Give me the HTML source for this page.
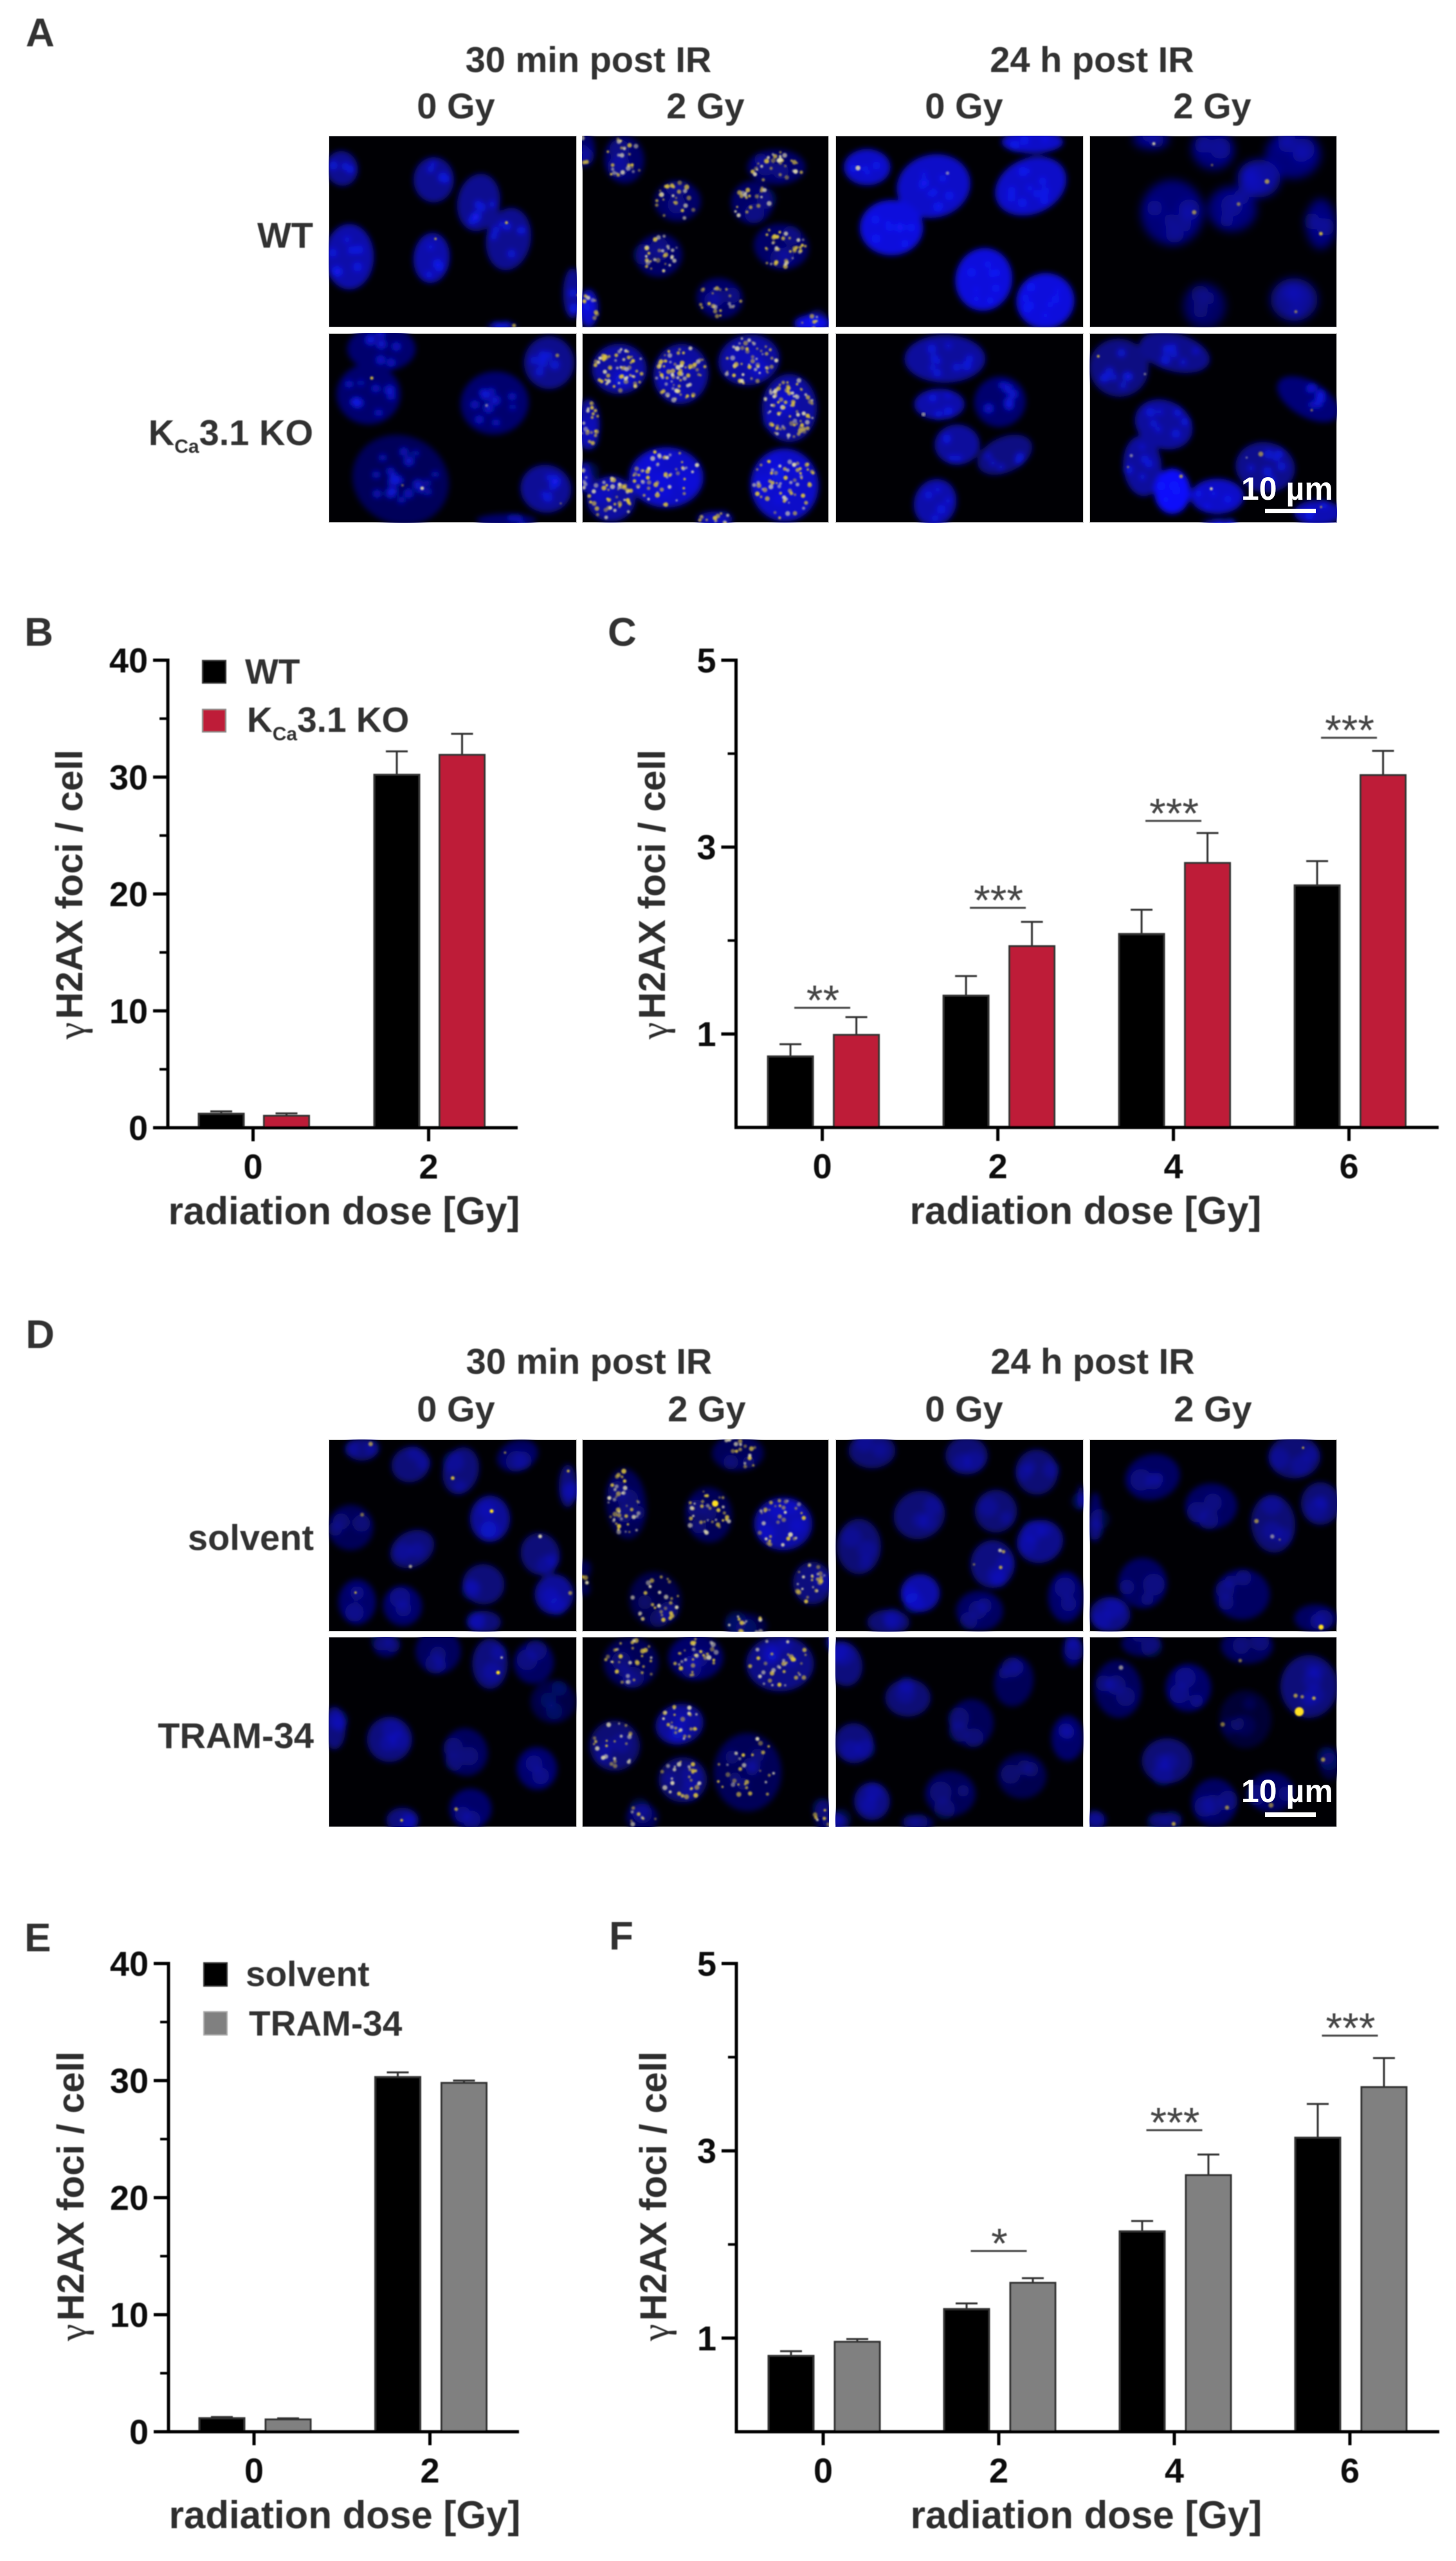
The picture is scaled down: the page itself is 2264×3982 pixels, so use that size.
<!DOCTYPE html>
<html lang="en">
<head>
<meta charset="utf-8">
<title>γH2AX foci after irradiation</title>
<style>
html,body{margin:0;padding:0;background:#fff;}
svg{display:block;}
text{font-family:"Liberation Sans",sans-serif;}
.pl{font-weight:700;font-size:62px;fill:#333;}
.head{font-weight:700;font-size:56px;fill:#333;}
.leg{font-weight:700;font-size:55px;fill:#333;}
.sub{font-weight:700;font-size:30px;}
.sb{font-weight:700;font-size:50px;fill:#fff;}
</style>
</head>
<body>
<svg id="fig" xmlns="http://www.w3.org/2000/svg" width="2264" height="3982" viewBox="0 0 2264 3982">
<defs>
<filter id="nb" x="-5%" y="-5%" width="110%" height="110%"><feGaussianBlur stdDeviation="4.5"/></filter>
<filter id="nbs" x="-5%" y="-5%" width="110%" height="110%"><feGaussianBlur stdDeviation="7"/></filter>
<filter id="fb" x="-5%" y="-5%" width="110%" height="110%"><feGaussianBlur stdDeviation="1.4"/></filter>
<filter id="soft" filterUnits="userSpaceOnUse" x="0" y="0" width="2264" height="3982"><feGaussianBlur stdDeviation="0.8"/></filter>
</defs>
<rect width="2264" height="3982" fill="#fff"/>

<g id="micro"></g>

<g id="statics" filter="url(#soft)">
  <text class="pl" x="40" y="72">A</text>
  <text class="pl" x="38" y="1004">B</text>
  <text class="pl" x="945" y="1004">C</text>
  <text class="pl" x="40" y="2096">D</text>
  <text class="pl" x="38" y="3034">E</text>
  <text class="pl" x="947" y="3031">F</text>

  <text class="head" x="915" y="112" text-anchor="middle">30 min post IR</text>
  <text class="head" x="1698" y="112" text-anchor="middle">24 h post IR</text>
  <text class="head" x="709" y="184" text-anchor="middle">0 Gy</text>
  <text class="head" x="1097" y="184" text-anchor="middle">2 Gy</text>
  <text class="head" x="1499" y="184" text-anchor="middle">0 Gy</text>
  <text class="head" x="1885" y="184" text-anchor="middle">2 Gy</text>
  <text class="head" x="487" y="385" text-anchor="end">WT</text>
  <text class="head" x="487" y="692" text-anchor="end">K<tspan class="sub" dy="12">Ca</tspan><tspan dy="-12">3.1 KO</tspan></text>

  <text class="head" x="916" y="2136" text-anchor="middle">30 min post IR</text>
  <text class="head" x="1699" y="2136" text-anchor="middle">24 h post IR</text>
  <text class="head" x="709" y="2210" text-anchor="middle">0 Gy</text>
  <text class="head" x="1099" y="2210" text-anchor="middle">2 Gy</text>
  <text class="head" x="1499" y="2210" text-anchor="middle">0 Gy</text>
  <text class="head" x="1886" y="2210" text-anchor="middle">2 Gy</text>
  <text class="head" x="488" y="2410" text-anchor="end">solvent</text>
  <text class="head" x="488" y="2718" text-anchor="end">TRAM-34</text>

  <rect x="315" y="1027" width="36" height="35" fill="#000" stroke="#333" stroke-width="2"/>
  <text class="leg" x="381" y="1063">WT</text>
  <rect x="315" y="1103" width="36" height="35" fill="#be1a38" stroke="#888" stroke-width="2"/>
  <text class="leg" x="384" y="1138">K<tspan class="sub" dy="13">Ca</tspan><tspan dy="-13">3.1 KO</tspan></text>

  <rect x="317" y="3052" width="36" height="36" fill="#000" stroke="#333" stroke-width="2"/>
  <text class="leg" x="382" y="3088">solvent</text>
  <rect x="317" y="3128" width="36" height="36" fill="#808080" stroke="#aaa" stroke-width="2"/>
  <text class="leg" x="387" y="3165">TRAM-34</text>
</g>

<g id="charts" filter="url(#soft)"></g>

<g id="scalebars">
  <text class="sb" x="1930" y="777">10 µm</text>
  <rect x="1967" y="791" width="79" height="7" fill="#fff"/>
  <text class="sb" x="1930" y="2802">10 µm</text>
  <rect x="1967" y="2818" width="79" height="7" fill="#fff"/>
</g>
</svg>

<script>
// ---------- Chart data ----------
const categoriesB = ['0', '2'];
const wtMeansB = [1.2, 30.2];
const koMeansB = [1.02, 31.9];
const wtErrorsB = [0.2, 2.0];
const koErrorsB = [0.21, 1.8];
const majorTicksB = [0, 10, 20, 30, 40];
const minorTicksB = [5, 15, 25, 35];

const categoriesC = ['0', '2', '4', '6'];
const wtMeansC = [0.76, 1.41, 2.07, 2.59];
const koMeansC = [0.99, 1.94, 2.83, 3.77];
const wtErrorsC = [0.13, 0.21, 0.26, 0.26];
const koErrorsC = [0.19, 0.26, 0.32, 0.26];
const majorTicksC = [1, 3, 5];
const minorTicksC = [2, 4];
const sigGroupsC = [0, 1, 2, 3];
const sigLabelsC = ['**', '***', '***', '***'];
const sigLevelsC = [1.28, 2.35, 3.28, 4.17];

const categoriesE = ['0', '2'];
const solventMeansE = [1.16, 30.3];
const tramMeansE = [1.05, 29.8];
const solventErrorsE = [0.1, 0.4];
const tramErrorsE = [0.1, 0.2];
const majorTicksE = [0, 10, 20, 30, 40];
const minorTicksE = [5, 15, 25, 35];

const categoriesF = ['0', '2', '4', '6'];
const solventMeansF = [0.81, 1.31, 2.14, 3.14];
const tramMeansF = [0.96, 1.59, 2.74, 3.68];
const solventErrorsF = [0.05, 0.06, 0.11, 0.36];
const tramErrorsF = [0.03, 0.05, 0.22, 0.31];
const majorTicksF = [1, 3, 5];
const minorTicksF = [2, 4];
const sigGroupsF = [1, 2, 3];
const sigLabelsF = ['*', '***', '***'];
const sigLevelsF = [1.93, 3.22, 4.23];

const NS = 'http://www.w3.org/2000/svg';
function make(tag, props, parent) {
  const n = document.createElementNS(NS, tag);
  for (const k in props) n.setAttribute(k, props[k]);
  parent.appendChild(n);
  return n;
}

function drawChart(o) {
  const root = document.getElementById('charts');
  const g = make('g', {}, root);
  
  

  const yScale = v => o.y0 + (o.yTop - o.y0) * v / o.yMax;
  const xScale = i => o.x0 + i * o.step;
  const ink = '#333';

  o.series.forEach((s, si) => {
    o.categories.forEach((c, i) => {
      const left = xScale(i) + s.offset;
      const mid = left + o.barW / 2;
      const top = yScale(s.values[i]);
      const errTop = yScale(s.values[i] + s.errors[i]);

      const stem = make('line', {x1: mid, x2: mid, y1: top, y2: errTop, stroke: ink, 'stroke-width': 3}, g);
      
      

      const cap = make('line', {x1: mid - 17, x2: mid + 17, y1: errTop, y2: errTop, stroke: ink, 'stroke-width': 3}, g);
      
      

      const bar = make('rect', {x: left, y: top, width: o.barW, height: o.y0 - top, fill: s.fill, stroke: ink, 'stroke-width': 3}, g);
      
      
    });
  });

  const yAxis = make('line', {x1: o.axisX, x2: o.axisX, y1: o.yTop - 2.5, y2: o.y0 + 2.5, stroke: '#000', 'stroke-width': 5}, g);
  
  

  const xAxis = make('line', {x1: o.axisX - 2.5, x2: o.axisEnd, y1: o.y0, y2: o.y0, stroke: '#000', 'stroke-width': 5}, g);
  
  

  o.major.forEach(v => {
    const y = yScale(v);
    const t = make('line', {x1: o.axisX - 23, x2: o.axisX, y1: y, y2: y, stroke: '#000', 'stroke-width': 5}, g);
    
    

    const lab = make('text', {x: o.axisX - 31, y: y + 19, 'text-anchor': 'end', 'font-size': 54, 'font-weight': 700, fill: '#111'}, g);
    lab.textContent = String(v);
    
    
  });

  o.minor.forEach(v => {
    const y = yScale(v);
    const t = make('line', {x1: o.axisX - 13, x2: o.axisX, y1: y, y2: y, stroke: '#000', 'stroke-width': 4}, g);
    
    
  });

  o.categories.forEach((c, i) => {
    const x = xScale(i);
    const t = make('line', {x1: x, x2: x, y1: o.y0, y2: o.y0 + 21, stroke: '#000', 'stroke-width': 5}, g);
    
    

    const lab = make('text', {x: x, y: o.y0 + 79, 'text-anchor': 'middle', 'font-size': 54, 'font-weight': 700, fill: '#111'}, g);
    lab.textContent = c;
    
    
  });

  const xt = make('text', {x: o.xTitleX, y: o.y0 + 150, 'text-anchor': 'middle', 'font-size': 60, 'font-weight': 700, fill: '#2f2f2f'}, g);
  xt.textContent = 'radiation dose [Gy]';
  
  

  const yt = make('text', {transform: 'translate(' + o.yTitleX + ',' + o.yTitleY + ') rotate(-90)', 'font-size': 58, 'font-weight': 700, fill: '#2f2f2f'}, g);
  const gam = make('tspan', {'font-family': '"Liberation Serif",serif', 'font-weight': 400, 'font-size': 60, dy: 3}, yt);
  gam.textContent = 'γ';
  const rest = make('tspan', {dy: -3, dx: 5}, yt);
  rest.textContent = 'H2AX foci / cell';
  
  

  (o.sigGroups || []).forEach((gi, k) => {
    const x = xScale(gi);
    const y = yScale(o.sigLevels[k]);
    const line = make('line', {x1: x - 43.5, x2: x + 43.5, y1: y, y2: y, stroke: '#444', 'stroke-width': 3}, g);
    
    

    const star = make('text', {x: x + 1, y: y + 11, 'text-anchor': 'middle', 'font-size': 66, fill: '#444'}, g);
    star.textContent = o.sigLabels[k];
    
    
  });
}

const RED = '#be1a38', GREY = '#808080';
drawChart({id: 'b', categories: categoriesB, yMax: 40, y0: 1753.5, yTop: 1026.5, axisX: 261, axisEnd: 805, x0: 393.5, step: 273, barW: 70,
  major: majorTicksB, minor: minorTicksB, xTitleX: 535, yTitleX: 128, yTitleY: 1616,
  series: [{name: 'wt', values: wtMeansB, errors: wtErrorsB, fill: '#000', offset: -84.5}, {name: 'ko', values: koMeansB, errors: koErrorsB, fill: RED, offset: 17}]});
drawChart({id: 'c', categories: categoriesC, yMax: 5, y0: 1753, yTop: 1026.5, axisX: 1144.5, axisEnd: 2237, x0: 1278.6, step: 273, barW: 70,
  major: majorTicksC, minor: minorTicksC, xTitleX: 1688, yTitleX: 1034, yTitleY: 1616,
  sigGroups: sigGroupsC, sigLabels: sigLabelsC, sigLevels: sigLevelsC,
  series: [{name: 'wt', values: wtMeansC, errors: wtErrorsC, fill: '#000', offset: -84.5}, {name: 'ko', values: koMeansC, errors: koErrorsC, fill: RED, offset: 18}]});
drawChart({id: 'e', categories: categoriesE, yMax: 40, y0: 3781, yTop: 3053, axisX: 262, axisEnd: 807, x0: 395, step: 273.5, barW: 70,
  major: majorTicksE, minor: minorTicksE, xTitleX: 536, yTitleX: 130, yTitleY: 3640,
  series: [{name: 'solvent', values: solventMeansE, errors: solventErrorsE, fill: '#000', offset: -85}, {name: 'tram-34', values: tramMeansE, errors: tramErrorsE, fill: GREY, offset: 18}]});
drawChart({id: 'f', categories: categoriesF, yMax: 5, y0: 3781, yTop: 3053, axisX: 1145, axisEnd: 2238, x0: 1280, step: 273, barW: 70,
  major: majorTicksF, minor: minorTicksF, xTitleX: 1689, yTitleX: 1036, yTitleY: 3640,
  sigGroups: sigGroupsF, sigLabels: sigLabelsF, sigLevels: sigLevelsF,
  series: [{name: 'solvent', values: solventMeansF, errors: solventErrorsF, fill: '#000', offset: -85}, {name: 'tram-34', values: tramMeansF, errors: tramErrorsF, fill: GREY, offset: 18}]});
</script>

<script>
// ---------- Micrographs: stylised nuclei and foci (illustration, not chart data) ----------
(function () {
  const NS2 = 'http://www.w3.org/2000/svg';
  const host = document.getElementById('micro');
  let seed = 12345;
  const rnd = () => { seed = (seed * 1664525 + 1013904223) % 4294967296; return seed / 4294967296; };
  const colX = [[511, 897], [905, 1289], [1299, 1685], [1694, 2079]];

  // crop transforms: offsetX, offsetY, scaleX, scaleY
  const tA1 = [505, 205, 3.01, 2.55], tA23 = [900, 205, 1.985, 2.55], tA4 = [1690, 205, 3.01, 2.55];
  const tD12 = [505, 2230, 1.985, 2.55], tD34 = [1290, 2230, 1.972, 2.55];

  // each nucleus: cx, cy, rx, ry (crop units), rotation, brightness, foci
  const figs = [
    {name: 'a', rows: [[211, 509], [518, 813]], panels: [
      {t: tA1, b: .72, f: 1, spot: 1, n: [[80,145,75,70,-15],[510,190,95,90,0],[720,280,100,115,10],[860,425,105,125,10],[115,495,115,130,0,.85],[500,500,85,100,5,.85],[1160,640,45,100,0],[830,770,70,15,0]]},
      {t: tA23, b: .52, f: 24, n: [[140,110,62,95,-5],[610,140,90,70,0],[305,275,72,80,0],[535,280,65,85,-5],[625,455,85,90,10],[248,490,72,85,-10],[435,660,72,80,10],[30,700,30,75,0,1],[720,760,55,35,0,1.1],[20,70,30,70,0]]},
      {t: tA23, b: 1.0, f: 1, spot: 1, n: [[890,140,72,72,0],[1095,215,115,125,-15],[1395,215,115,110,-25],[965,380,98,110,0,1.1],[1250,585,88,125,10,1.1],[1440,670,90,110,-10,1.1],[1400,40,95,45,0]]},
      {t: tA4, b: .62, f: 1, soft: 1, n: [[300,30,85,40,0],[590,70,100,80,20],[965,90,130,95,0],[805,185,100,75,0,.8],[400,320,148,130,0,.6],[680,305,115,90,0],[1095,365,70,100,0],[550,690,100,90,0,.5],[970,665,110,85,0,.7]]},
      {t: tA1, b: .55, f: 1, spot: 1, n: [[265,860,160,90,0],[205,1040,150,120,0],[1050,915,118,105,0,.7],[795,1075,160,125,-10],[355,1380,230,175,25,.45,2],[1035,1415,120,95,15,.75],[850,1540,140,25,0]]},
      {t: tA23, b: .8, f: 34, n: [[125,940,85,100,0],[315,960,85,120,10],[525,905,95,100,-10],[650,1095,85,135,0],[30,1160,35,100,0],[270,1370,115,120,0,1.0,55],[635,1400,105,145,-5,1.0,60],[100,1455,75,90,0],[420,1535,55,30,0],[20,1370,20,60,0]]},
      {t: tA23, b: .78, f: 0, spot: 1, n: [[1130,900,125,95,0],[1113,1080,78,62,0,.85,1],[1300,1070,80,100,-25,.55],[1168,1240,70,80,0],[1315,1280,90,70,-25,.65],[1100,1470,65,95,20,.85]]},
      {t: tA4, b: .78, f: 2, spot: 1, n: [[150,935,140,115,25,.65],[410,875,170,75,15,.7],[360,1160,140,95,25],[260,1325,90,120,-5],[400,1425,85,90,0,1.25],[610,1445,125,70,0,1.0],[835,1330,140,100,10,.7],[1035,1060,160,70,30,.6],[1080,1510,110,50,0,.9],[620,1550,80,15,0]]}
    ]},
    {name: 'd', rows: [[2238, 2537], [2545, 2841]], panels: [
      {t: tD12, b: .68, f: 1, x: [[515,305,3]], n: [[115,60,50,45,0],[265,120,60,70,-20],[420,145,55,95,15],[595,85,65,60,-20,.55],[750,205,28,85,0],[510,335,62,92,0,.85],[80,370,70,90,30,.5],[270,455,72,70,-30],[665,475,60,85,-20],[490,595,65,80,10],[708,635,60,80,0,.85],[100,665,58,90,0,.6],[240,680,60,80,-15,.6],[492,745,52,45,0]]},
      {t: tD12, b: .5, f: 22, x: [[1205,275,5]], n: [[1275,75,80,70,0],[930,275,62,140,-5],[1185,320,72,110,-5],[1415,355,90,105,0,.95,32],[1505,590,60,85,0,.7],[1020,655,80,110,-15,.42],[1300,760,65,50,0,.4],[805,570,12,70,0,.3]]},
      {t: tD34, b: .65, f: 0, n: [[130,65,72,70,0],[420,85,65,75,0],[635,150,65,90,-5],[275,320,80,95,-25],[510,305,65,85,0],[90,445,68,110,0],[645,425,72,85,-20,.78],[500,515,68,95,0,.72,4],[278,630,60,75,0,.95],[725,645,55,100,0,.6],[460,700,72,80,0,.55],[180,745,65,50,0],[770,250,10,50,0]]},
      {t: tD34, b: .55, f: 0, x: [[1507,765,4]], n: [[990,170,85,90,-15],[1425,90,80,85,0,.65,1],[1170,285,80,90,0],[1360,355,68,115,-5,.65,3],[1505,275,60,85,0,.65],[960,590,75,100,0],[1265,635,85,100,0],[860,715,62,70,0,.75],[1490,730,65,55,0],[815,330,20,100,0]]},
      {t: tD12, b: .52, f: 1, x: [[535,945,3]], n: [[190,840,40,45,0],[350,860,70,90,-10],[510,910,55,100,0,.7],[645,905,62,85,10,.55],[705,1060,70,85,0,.4],[30,1165,35,85,0,.7],[200,1210,70,90,-10,.7],[435,1260,68,95,-15],[655,1325,62,85,-10,.62],[450,1485,65,80,0,.6],[240,1530,50,50,0,.7]]},
      {t: tD12, b: .6, f: 20, n: [[945,905,85,100,0,.5],[1145,885,85,90,0],[1405,910,105,110,0,.75,34],[1095,1150,75,80,-15,.85],[895,1235,78,100,-5,.65],[1105,1370,75,90,0,.65],[1305,1340,105,155,0,.5,28],[980,1520,50,55,0,.5],[1540,1510,30,60,0,.5],[1565,830,10,30,0]]},
      {t: tD34, b: .55, f: 0, n: [[45,910,55,90,-15,.7],[565,980,60,100,10,.5],[240,1045,70,75,0,.65],[745,860,30,60,0,.6],[435,1145,68,95,0,.5],[75,1225,60,80,-20,.7],[730,1205,50,90,0,.6],[590,1355,75,90,0,.45],[370,1425,78,90,0,.5],[130,1455,55,75,0,.75],[270,1540,50,30,0,.5],[20,1530,25,30,0,.6]]},
      {t: tD34, b: .52, f: 1, x: [[1440,1100,7]], n: [[885,1010,72,115,-5],[1100,1005,70,95,0,.6],[1470,1000,88,125,0,.68,3],[1275,1130,80,115,0,.3],[955,830,60,50,0],[1280,840,80,70,0],[1035,1295,78,90,0,.65],[1180,1460,70,95,0,.55],[1535,1305,35,65,0,.35],[1355,1420,70,80,0,.55],[1030,1530,50,30,0],[820,1530,30,30,0]]}
    ]}
  ];

  figs.forEach(fig => {
    const blueBase = fig.name === 'd' ? 178 : 200;
    fig.panels.forEach((p, pi) => {
      const col = colX[pi % 4], row = fig.rows[pi < 4 ? 0 : 1];
      const w = col[1] - col[0], h = row[1] - row[0], tf = p.t;

      const frame = document.createElementNS(NS2, 'svg');
      frame.setAttribute('x', col[0]);
      frame.setAttribute('y', row[0]);
      frame.setAttribute('width', w);
      frame.setAttribute('height', h);
      frame.setAttribute('viewBox', col[0] + ' ' + row[0] + ' ' + w + ' ' + h);
      
      
      host.appendChild(frame);

      const bg = document.createElementNS(NS2, 'rect');
      bg.setAttribute('x', col[0]);
      bg.setAttribute('y', row[0]);
      bg.setAttribute('width', w);
      bg.setAttribute('height', h);
      bg.setAttribute('fill', '#000004');
      bg.setAttribute('stroke', '#ccc');
      bg.setAttribute('stroke-width', '2');
      
      
      frame.appendChild(bg);

      const nucG = document.createElementNS(NS2, 'g');
      nucG.setAttribute('filter', p.soft ? 'url(#nbs)' : 'url(#nb)');
      
      
      frame.appendChild(nucG);

      const fociG = document.createElementNS(NS2, 'g');
      fociG.setAttribute('filter', 'url(#fb)');
      
      
      frame.appendChild(fociG);

      p.n.forEach(c => {
        const cx = tf[0] + c[0] / tf[2], cy = tf[1] + c[1] / tf[3], rx = c[2] / tf[2], ry = c[3] / tf[3], rot = c[4] || 0;
        const br = c[5] !== undefined ? c[5] : p.b;
        const nf = c[6] !== undefined ? c[6] : (p.f < 3 ? Math.floor(rnd() * (p.f + 1)) : Math.round(p.f * (rx * ry / 1100) * (0.8 + rnd() * 0.4)));
        const R = Math.min(255, 10 * br), G = Math.min(255, 10 * br), B = Math.min(255, blueBase * br);

        const nuc = document.createElementNS(NS2, 'ellipse');
        nuc.setAttribute('cx', cx);
        nuc.setAttribute('cy', cy);
        nuc.setAttribute('rx', rx);
        nuc.setAttribute('ry', ry);
        nuc.setAttribute('transform', 'rotate(' + rot + ' ' + cx + ' ' + cy + ')');
        nuc.setAttribute('fill', 'rgb(' + R + ',' + G + ',' + B + ')');
        
        
        nucG.appendChild(nuc);

        const blobs = p.spot ? Math.max(3, Math.round(rx * ry / 260)) : Math.max(2, Math.round(rx * ry / 450));
        for (let i = 0; i < blobs; i++) {
          const a = rnd() * 6.283, d = Math.sqrt(rnd()) * 0.72;
          const blob = document.createElementNS(NS2, 'circle');
          blob.setAttribute('cx', cx + Math.cos(a) * d * rx);
          blob.setAttribute('cy', cy + Math.sin(a) * d * ry);
          blob.setAttribute('r', p.spot ? 4 + rnd() * 3.5 : 9 + rnd() * 8);
          blob.setAttribute('fill', 'rgb(20,30,255)');
          blob.setAttribute('opacity', p.spot ? 0.65 : (0.1 + 0.18 * Math.min(br, 1.2)).toFixed(2));
          
          
          nucG.appendChild(blob);
        }

        for (let i = 0; i < nf; i++) {
          const a = rnd() * 6.283, d = Math.sqrt(rnd()) * 0.92;
          const lx = Math.cos(a) * d * rx, ly = Math.sin(a) * d * ry, t = rot * Math.PI / 180;
          const focus = document.createElementNS(NS2, 'circle');
          focus.setAttribute('cx', cx + lx * Math.cos(t) - ly * Math.sin(t));
          focus.setAttribute('cy', cy + lx * Math.sin(t) + ly * Math.cos(t));
          focus.setAttribute('r', 1.6 + rnd() * 2.4);
          focus.setAttribute('fill', rnd() < 0.35 ? '#ddd8b0' : '#d8c040');
          focus.setAttribute('opacity', (0.45 + rnd() * 0.5).toFixed(2));
          
          
          fociG.appendChild(focus);
        }
      });

      (p.x || []).forEach(s => {
        const big = document.createElementNS(NS2, 'circle');
        big.setAttribute('cx', tf[0] + s[0] / tf[2]);
        big.setAttribute('cy', tf[1] + s[1] / tf[3]);
        big.setAttribute('r', s[2]);
        big.setAttribute('fill', '#ffe020');
        
        
        fociG.appendChild(big);
      });
    });
  });
})();
</script>
</body>
</html>
